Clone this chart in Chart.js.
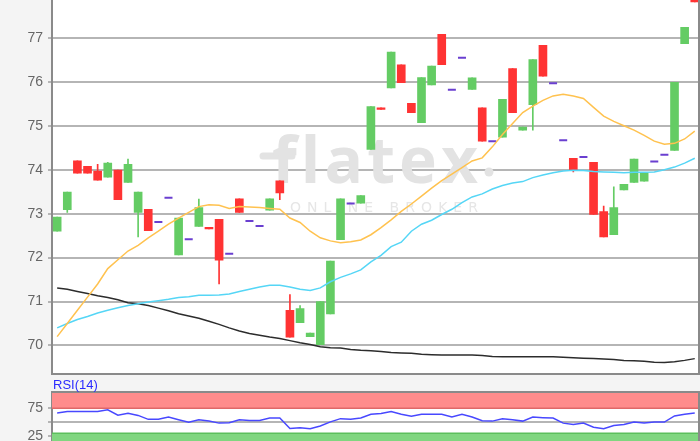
<!DOCTYPE html>
<html>
<head>
<meta charset="utf-8">
<script src="https://cdn.jsdelivr.net/npm/chart.js@4.4.0/dist/chart.umd.min.js"></script>
<style>
  html, body { margin: 0; padding: 0; width: 700px; height: 441px; overflow: hidden; background: #f4f4f4; font-family: "Liberation Sans", Arial, sans-serif; }
  #wrapMain { position: absolute; left: 0; top: -26px; width: 700px; height: 420px; }
  #wrapRsi { position: absolute; left: 0; top: 376px; width: 700px; height: 94px; }
  #rsiLabel { position: absolute; left: 53px; top: 377px; font-size: 13px; color: #2b2bff; }
</style>
</head>
<body>
<div id="wrapMain"><canvas id="mainChart"></canvas></div>
<div id="wrapRsi"><canvas id="rsiChart"></canvas></div>
<div id="rsiLabel">RSI(14)</div>
<script>
// daily candles (index 0 = oldest visible day)
const opens  = [72.60,73.09,74.20,74.08,73.97,73.83,73.99,73.71,73.03,73.10,72.81,73.36,72.06,72.42,72.71,72.69,72.87,72.09,73.34,72.83,72.72,73.08,73.75,70.80,70.52,70.20,70.02,70.72,72.41,73.23,73.24,74.46,75.41,75.86,76.39,75.51,75.07,75.93,77.08,75.82,76.55,75.83,75.41,74.65,74.74,76.30,74.90,75.48,76.83,75.97,74.67,74.26,74.29,74.17,73.05,72.52,73.54,73.71,73.74,74.19,74.34,74.44,76.87,78.10];
const highs  = [72.92,73.49,74.20,74.08,74.12,74.17,73.99,74.24,73.49,73.10,72.81,73.36,72.90,72.42,73.33,72.69,72.87,72.09,73.34,72.83,72.72,73.34,73.75,71.16,70.91,70.28,71.00,71.92,73.34,73.23,73.41,75.44,75.41,76.68,76.39,75.51,76.10,76.36,77.08,75.82,76.55,76.09,75.41,74.65,75.60,76.30,74.97,76.51,76.83,75.97,74.67,74.26,74.29,74.17,73.17,73.61,73.67,74.24,73.93,74.19,74.34,75.99,77.24,78.10];
const lows   = [72.60,73.03,73.92,73.92,73.76,73.83,73.32,73.71,72.47,72.61,72.81,73.36,72.06,72.42,72.71,72.65,71.40,72.09,73.03,72.83,72.72,73.08,73.32,70.19,70.52,70.20,70.02,70.72,72.41,73.23,73.24,74.46,75.37,75.86,75.98,75.30,75.07,75.93,76.39,75.82,76.55,75.83,74.65,74.65,74.74,75.30,74.90,74.90,76.13,75.97,74.67,73.95,74.29,72.98,72.47,72.52,73.54,73.71,73.74,74.19,74.34,74.44,76.87,77.82];
const closes = [72.92,73.49,73.92,73.92,73.76,74.15,73.32,74.12,73.49,72.61,72.81,73.36,72.90,72.42,73.14,72.65,71.94,72.09,73.03,72.83,72.72,73.34,73.47,70.19,70.84,70.28,71.00,71.92,73.34,73.23,73.41,75.44,75.37,76.68,75.98,75.30,76.10,76.36,76.39,75.82,76.55,76.09,74.65,74.65,75.60,75.30,74.97,76.51,76.13,75.97,74.67,74.00,74.29,72.98,72.47,73.14,73.67,74.24,73.93,74.19,74.34,75.99,77.24,77.82];

// moving averages
const maShort = [70.2,70.5,70.8,71.1,71.4,71.75,71.95,72.15,72.28,72.45,72.6,72.76,72.9,73.03,73.16,73.2,73.19,73.12,73.16,73.15,73.14,73.12,73.1,72.9,72.8,72.6,72.45,72.38,72.34,72.36,72.4,72.52,72.68,72.86,73.05,73.22,73.4,73.58,73.75,73.9,74.05,74.2,74.27,74.52,74.8,75.05,75.3,75.45,75.58,75.68,75.72,75.68,75.62,75.42,75.22,75.1,75.0,74.9,74.78,74.65,74.58,74.6,74.7,74.88];
const maMid   = [70.4,70.5,70.59,70.66,70.74,70.8,70.86,70.91,70.95,70.99,71.02,71.05,71.09,71.11,71.14,71.14,71.15,71.17,71.23,71.28,71.33,71.37,71.37,71.33,71.28,71.25,71.31,71.45,71.55,71.63,71.72,71.9,72.05,72.25,72.35,72.6,72.76,72.85,72.98,73.1,73.25,73.38,73.45,73.56,73.64,73.7,73.73,73.82,73.88,73.93,73.97,73.99,73.98,73.96,73.95,73.94,73.93,73.94,73.94,73.95,74.0,74.06,74.15,74.26];
const maLong  = [71.31,71.28,71.23,71.18,71.13,71.09,71.04,70.97,70.95,70.91,70.85,70.79,70.72,70.67,70.62,70.55,70.48,70.4,70.33,70.27,70.23,70.19,70.16,70.11,70.06,70.02,69.97,69.95,69.94,69.91,69.89,69.88,69.86,69.84,69.83,69.82,69.8,69.79,69.78,69.78,69.78,69.78,69.77,69.75,69.74,69.74,69.74,69.74,69.74,69.74,69.73,69.72,69.71,69.7,69.69,69.68,69.66,69.65,69.64,69.62,69.61,69.63,69.66,69.7];

// RSI(14)
const rsi = [66.5,68.9,68.9,68.9,68.9,72.0,62.5,66.0,62.0,55.0,55.0,59.0,54.4,50.0,54.4,52.0,48.2,49.0,54.4,53.1,53.1,57.3,57.3,38.5,39.8,38.0,43.0,50.5,56.2,55.0,57.3,64.0,65.3,68.9,64.0,60.4,64.0,64.0,64.0,59.1,64.0,59.1,52.5,51.8,56.2,54.4,51.8,59.1,58.0,57.3,48.2,45.8,48.2,40.9,38.0,44.0,45.8,50.0,48.2,50.0,50.0,61.0,64.0,66.4];

const priceTicks = [70, 71, 72, 73, 74, 75, 76, 77, 78];
const rsiTicks = [25, 50, 75];
const rsiTickLabels = ['25', '', '75'];
const rsiUpper = 75;
const rsiLower = 30;

const upColor = '#64cc64';
const downColor = '#ff3333';
const flatColor = '#6a3fd0';
const gridColor = '#b5b5b5';
const frameColor = '#8a8a8a';
const tickFont = { family: '"Liberation Sans", Arial, sans-serif', size: 14 };

const xRange = { min: -0.51, max: 63.37 };

const candles = opens.map((o, i) => ({ i, o, h: highs[i], l: lows[i], c: closes[i] }));
const realCandles = candles.filter(k => k.o !== k.c);
const flatCandles = candles.filter(k => k.o === k.c);
const candleColor = k => (k.c >= k.o ? upColor : downColor);

const MAIN_TOP = -26; // page offset of the main canvas

const mainDecor = {
  id: 'mainDecor',
  beforeDraw(chart) {
    const { ctx, chartArea: a } = chart;
    ctx.save();
    ctx.fillStyle = '#ffffff';
    ctx.fillRect(a.left, a.top, a.right - a.left, a.bottom - a.top);
    ctx.restore();
  },
  beforeDatasetsDraw(chart) {
    // flatex watermark
    const ctx = chart.ctx;
    const off = -MAIN_TOP;
    ctx.save();
    ctx.fillStyle = '#e3e3e3';
    ctx.strokeStyle = '#e3e3e3';
    ctx.lineCap = 'round';
    ctx.lineWidth = 7;
    ctx.beginPath();
    ctx.moveTo(263, 156 + off);
    ctx.lineTo(292, 156 + off);
    ctx.stroke();
    drawSpaced(ctx, 'flatex', '700 64px "Open Sans", sans-serif', 272, 478, 183 + off);
    ctx.beginPath();
    ctx.arc(489, 172 + off, 4.5, 0, Math.PI * 2);
    ctx.fill();
    ctx.fillStyle = '#e6e6e6';
    drawSpaced(ctx, 'ONLINE BROKER', '14px "DejaVu Sans", sans-serif', 290, 478, 212 + off);
    ctx.restore();
  },
  afterDraw(chart) {
    const { ctx, chartArea: a } = chart;
    ctx.save();
    ctx.strokeStyle = frameColor;
    ctx.lineWidth = 2;
    ctx.beginPath();
    ctx.moveTo(a.left, a.bottom);
    ctx.lineTo(a.right + 1.5, a.bottom);
    ctx.moveTo(a.right + 0.5, 0);
    ctx.lineTo(a.right + 0.5, a.bottom);
    ctx.stroke();
    ctx.restore();
  }
};

function drawSpaced(ctx, text, font, x0, x1, y) {
  ctx.font = font;
  ctx.textBaseline = 'alphabetic';
  ctx.textAlign = 'left';
  const widths = [...text].map(ch => ctx.measureText(ch).width);
  const total = widths.reduce((s, w) => s + w, 0);
  const gap = (x1 - x0 - total) / (text.length - 1);
  let x = x0;
  [...text].forEach((ch, k) => {
    ctx.fillText(ch, x, y);
    x += widths[k] + gap;
  });
}

new Chart(document.getElementById('mainChart').getContext('2d'), {
  type: 'bar',
  data: {
    datasets: [
      {
        type: 'line',
        data: maShort.map((v, i) => ({ x: i, y: v })),
        borderColor: '#ffc24f',
        borderWidth: 1.5,
        pointRadius: 0,
        tension: 0,
        order: 0,
      },
      {
        type: 'line',
        data: maMid.map((v, i) => ({ x: i, y: v })),
        borderColor: '#55d6f6',
        borderWidth: 1.5,
        pointRadius: 0,
        tension: 0,
        order: 0,
      },
      {
        type: 'line',
        data: maLong.map((v, i) => ({ x: i, y: v })),
        borderColor: '#2c2c2c',
        borderWidth: 1.5,
        pointRadius: 0,
        tension: 0,
        order: 0,
      },
      {
        type: 'line',
        data: flatCandles.map(k => ({ x: k.i, y: k.c })),
        showLine: false,
        pointStyle: 'line',
        pointRadius: 4,
        borderWidth: 2,
        borderColor: flatColor,
        order: 1,
      },
      {
        // bodies
        data: realCandles.map(k => ({ x: k.i, y: [k.o, k.c] })),
        backgroundColor: realCandles.map(candleColor),
        barThickness: 8,
        grouped: false,
        borderWidth: 0,
        order: 2,
      },
      {
        // wicks
        data: realCandles.map(k => ({ x: k.i, y: [k.l, k.h] })),
        backgroundColor: realCandles.map(candleColor),
        barThickness: 1,
        grouped: false,
        borderWidth: 0,
        order: 3,
      },
    ],
  },
  options: {
    responsive: true,
    maintainAspectRatio: false,
    animation: false,
    layout: { autoPadding: false, padding: { top: 20, right: 1.5, bottom: 20, left: 0 } },
    plugins: { legend: { display: false }, tooltip: { enabled: false } },
    scales: {
      x: { type: 'linear', min: xRange.min, max: xRange.max, offset: false, display: false },
      y: {
        min: 69.35,
        max: 78,
        afterBuildTicks: s => { s.ticks = priceTicks.map(v => ({ value: v })); },
        afterFit: s => { s.width = 52; },
        grid: { color: gridColor, lineWidth: 2, tickLength: 4 },
        border: { color: frameColor, width: 2 },
        ticks: { color: '#666', font: tickFont, padding: 5 },
      },
    },
  },
  plugins: [mainDecor],
});

const rsiDecor = {
  id: 'rsiDecor',
  beforeDraw(chart) {
    const { ctx, chartArea: a } = chart;
    ctx.save();
    ctx.fillStyle = '#ffffff';
    ctx.fillRect(a.left, a.top, a.right - a.left, a.bottom - a.top);
    ctx.restore();
  },
  beforeDatasetsDraw(chart) {
    const { ctx, chartArea: a, scales: { y } } = chart;
    const yUp = y.getPixelForValue(rsiUpper);
    const yLo = y.getPixelForValue(rsiLower);
    ctx.save();
    ctx.fillStyle = '#ff8c8c';
    ctx.fillRect(a.left, a.top, a.right - a.left, yUp - a.top);
    ctx.fillStyle = '#80d680';
    ctx.fillRect(a.left, yLo, a.right - a.left, a.bottom - yLo);
    ctx.lineWidth = 1.5;
    ctx.strokeStyle = '#e06868';
    ctx.beginPath();
    ctx.moveTo(a.left, yUp);
    ctx.lineTo(a.right, yUp);
    ctx.stroke();
    ctx.strokeStyle = '#5cbf5c';
    ctx.beginPath();
    ctx.moveTo(a.left, yLo);
    ctx.lineTo(a.right, yLo);
    ctx.stroke();
    ctx.restore();
  },
  afterDraw(chart) {
    const { ctx, chartArea: a } = chart;
    ctx.save();
    ctx.strokeStyle = frameColor;
    ctx.lineWidth = 2;
    ctx.beginPath();
    ctx.moveTo(a.left, a.top);
    ctx.lineTo(a.right + 1.5, a.top);
    ctx.moveTo(a.right + 0.5, a.top);
    ctx.lineTo(a.right + 0.5, a.bottom);
    ctx.stroke();
    ctx.restore();
  }
};

new Chart(document.getElementById('rsiChart').getContext('2d'), {
  type: 'line',
  data: {
    datasets: [{
      data: rsi.map((v, i) => ({ x: i, y: v })),
      borderColor: '#4848ff',
      borderWidth: 1.5,
      pointRadius: 0,
      tension: 0,
    }],
  },
  options: {
    responsive: true,
    maintainAspectRatio: false,
    animation: false,
    layout: { autoPadding: false, padding: { top: 16, right: 1.5, bottom: 20, left: 0 } },
    plugins: { legend: { display: false }, tooltip: { enabled: false } },
    scales: {
      x: { type: 'linear', min: xRange.min, max: xRange.max, offset: false, display: false },
      y: {
        min: 0,
        max: 104,
        afterBuildTicks: s => { s.ticks = rsiTicks.map(v => ({ value: v })); },
        afterFit: s => { s.width = 52; },
        grid: { color: gridColor, lineWidth: 2, tickLength: 4 },
        border: { color: frameColor, width: 2 },
        ticks: {
          color: '#666',
          font: tickFont,
          padding: 5,
          callback: (v, k) => rsiTickLabels[k],
        },
      },
    },
  },
  plugins: [rsiDecor],
});
</script>
</body>
</html>
